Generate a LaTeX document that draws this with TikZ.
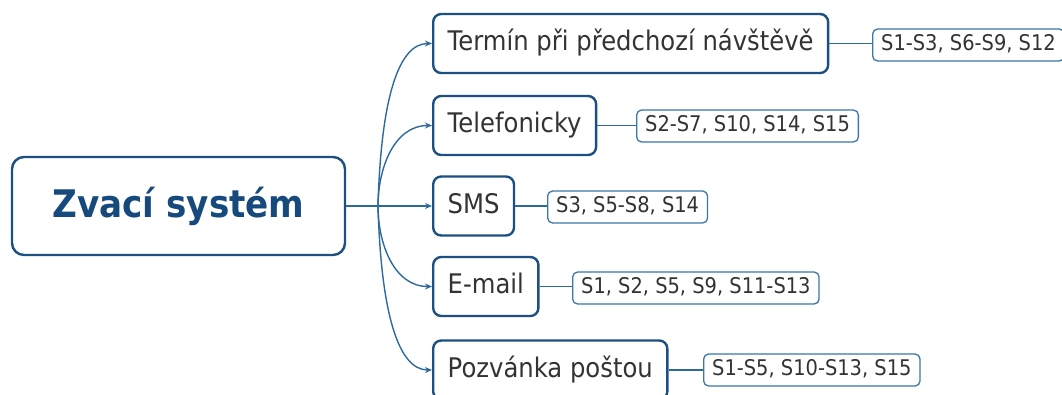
\documentclass[tikz,border=0pt]{standalone}
\usepackage{fontspec}
\setmainfont{DejaVu Sans}
\newfontfamily\narrowfont[FakeStretch=0.9]{DejaVu Sans}
\usetikzlibrary{arrows.meta}
\definecolor{boxblue}{HTML}{1D5082}
\definecolor{roottext}{HTML}{174A7C}
\definecolor{linkblue}{HTML}{2C6A9E}
\definecolor{leafblue}{HTML}{3A75AB}
\definecolor{textgray}{HTML}{333333}
\begin{document}
\begin{tikzpicture}[x=1bp,y=-1bp,
  rootbox/.style={draw=boxblue, line width=2.4bp, rounded corners=12bp,
    minimum width=333bp, minimum height=98bp, inner sep=0pt,
    text=roottext, font=\narrowfont\bfseries\fontsize{38bp}{44bp}\selectfont,
    text height=26bp, text depth=4bp},
  branchbox/.style={draw=boxblue, line width=2.4bp, rounded corners=8bp,
    minimum height=59bp, inner xsep=14.5bp, inner ysep=0pt, anchor=west,
    text=textgray, font=\narrowfont\fontsize{27bp}{32bp}\selectfont,
    text height=20bp, text depth=6bp},
  leafbox/.style={draw=leafblue, line width=1.3bp, rounded corners=5bp,
    minimum height=32bp, inner xsep=8.5bp, inner ysep=0pt, anchor=west,
    text=textgray, font=\narrowfont\fontsize{21.6bp}{25bp}\selectfont,
    text height=15.5bp, text depth=4.5bp, fill=white},
  link/.style={draw=linkblue, line width=1.4bp},
  arrowlink/.style={link, -{Stealth[length=7bp,width=6bp]}}
]
\useasboundingbox (0,0) rectangle (1062,394);
\clip (0,0) rectangle (1062,394);

\node[rootbox] (root) at (178.5,206) {Zvací systém};

\node[branchbox] (b1) at (432,43.5) {Termín při předchozí návštěvě};
\node[branchbox] (b2) at (432,125.5) {Telefonicky};
\node[branchbox] (b3) at (432,206) {SMS};
\node[branchbox] (b4) at (432,286.5) {E-mail};
\node[branchbox] (b5) at (432,370) {Pozvánka poštou};

\node[leafbox] (l1) at (872,45) {S1-S3, S6-S9, S12};
\node[leafbox] (l2) at (636,126) {S2-S7, S10, S14, S15};
\node[leafbox] (l3) at (547,207) {S3, S5-S8, S14};
\node[leafbox] (l4) at (572,288) {S1, S2, S5, S9, S11-S13};
\node[leafbox] (l5) at (703,370) {S1-S5, S10-S13, S15};

\coordinate (hub) at (378,206);

\draw[link] (root.east) -- (hub);
\draw[arrowlink] (hub) -- (b3.west);
\draw[arrowlink] (hub) .. controls (381,100) and (398,43.5) .. (b1.west);
\draw[arrowlink] (hub) to[out=90,in=180] (b2.west);
\draw[arrowlink] (hub) to[out=-90,in=180] (b4.west);
\draw[arrowlink] (hub) .. controls (381,312) and (398,370) .. (b5.west);

\draw[link] (b1.east) -- (l1.west |- b1.east);
\draw[link] (b2.east) -- (l2.west |- b2.east);
\draw[link] (b3.east) -- (l3.west |- b3.east);
\draw[link] (b4.east) -- (l4.west |- b4.east);
\draw[link] (b5.east) -- (l5.west |- b5.east);
\end{tikzpicture}
\end{document}
